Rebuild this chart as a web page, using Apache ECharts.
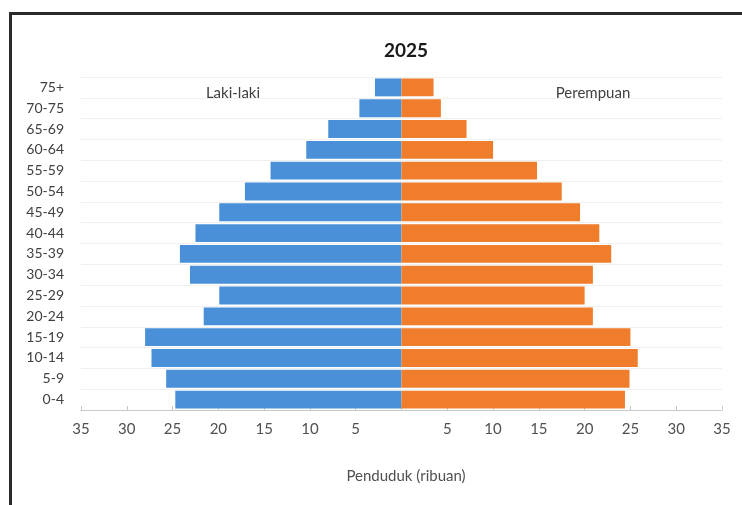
<!DOCTYPE html>
<html>
<head>
<meta charset="utf-8">
<script src="https://cdn.jsdelivr.net/npm/echarts@6/dist/echarts.min.js"></script>
<style>
html,body{margin:0;padding:0;background:#fff;}
#wrap{position:absolute;left:0;top:0;width:742px;height:505px;overflow:hidden;}
#frame{position:absolute;left:9px;top:12px;width:760px;height:520px;border-left:3px solid #2b2b2b;border-top:3px solid #2b2b2b;}
#chart{position:absolute;left:0;top:0;width:742px;height:505px;}
</style>
</head>
<body>
<div id="wrap">
<div id="frame"></div>
<div id="chart"></div>
</div>
<script>
const categories = ['0-4','5-9','10-14','15-19','20-24','25-29','30-34','35-39','40-44','45-49','50-54','55-59','60-64','65-69','70-75','75+'];
const lakiLaki = [24.7, 25.7, 27.3, 28.0, 21.6, 19.9, 23.1, 24.2, 22.5, 19.9, 17.1, 14.3, 10.4, 8.0, 4.6, 2.9];
const perempuan = [24.4, 24.9, 25.8, 25.0, 20.9, 20.0, 20.9, 22.9, 21.6, 19.5, 17.5, 14.8, 10.0, 7.1, 4.3, 3.5];
const titleText = '2025';
const maleLabel = 'Laki-laki';
const femaleLabel = 'Perempuan';
const axisName = 'Penduduk (ribuan)';

const font = 'Lato, "Open Sans", sans-serif';
const chart = echarts.init(document.getElementById('chart'));
chart.setOption({
  animation: false,
  textStyle: {fontFamily: font},
  title: [
    {text: titleText, left: 401, top: 36, textAlign: 'center', textStyle: {fontSize: 19, fontWeight: 'bold', color: '#1a1a1a', fontFamily: font}},
    {text: maleLabel, left: 228, top: 81, textAlign: 'center', textStyle: {fontSize: 15, fontWeight: 'normal', color: '#404040', fontFamily: font}},
    {text: femaleLabel, left: 588, top: 81, textAlign: 'center', textStyle: {fontSize: 15, fontWeight: 'normal', color: '#404040', fontFamily: font}},
    {text: axisName, left: 401, top: 464, textAlign: 'center', textStyle: {fontSize: 15, fontWeight: 'normal', color: '#505050', fontFamily: font}}
  ],
  grid: {left: 81, right: 20, top: 77, bottom: 95, containLabel: false},
  xAxis: {
    type: 'value', min: -35, max: 35, interval: 5,
    axisLine: {show: true, lineStyle: {color: '#c8c8c8', width: 1}},
    axisTick: {show: true, inside: true, length: 4, lineStyle: {color: '#c8c8c8'}},
    splitLine: {show: false},
    axisLabel: {
      color: '#505050', fontSize: 15, margin: 12, fontFamily: font,
      formatter: v => v === 0 ? '' : String(Math.abs(v))
    }
  },
  yAxis: {
    type: 'category', data: categories,
    axisLine: {show: false}, axisTick: {show: false},
    splitLine: {show: true, lineStyle: {color: '#f0f0f0', width: 1}},
    axisLabel: {color: '#404040', fontSize: 14, margin: 17, fontFamily: font}
  },
  series: [
    {name: maleLabel, type: 'bar', stack: 'pop', data: lakiLaki.map(v => -v),
     barCategoryGap: '14%', itemStyle: {color: '#4a90d9'}},
    {name: femaleLabel, type: 'bar', stack: 'pop', data: perempuan,
     barCategoryGap: '14%', itemStyle: {color: '#ef7d2c'}}
  ]
});
</script>
</body>
</html>
